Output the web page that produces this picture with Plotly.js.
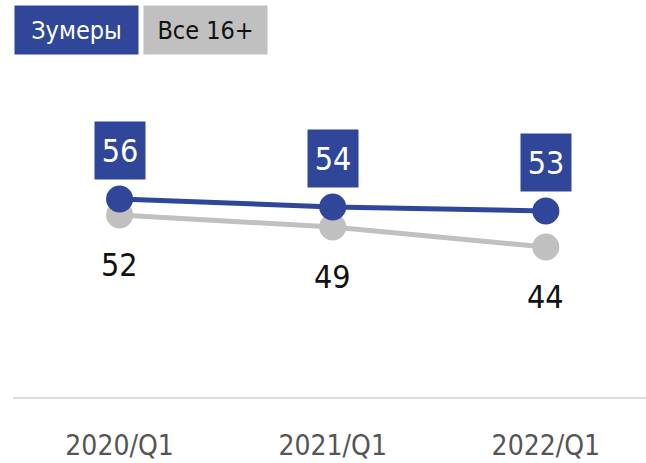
<!DOCTYPE html>
<html>
<head>
<meta charset="utf-8">
<script src="https://cdn.plot.ly/plotly-3.0.1.min.js"></script>
<style>html,body{margin:0;padding:0;background:#fff;}#chart{width:646px;height:463px;}
#chart svg text{font-stretch:condensed;}</style>
</head>
<body>
<div id="chart"></div>
<script>
const categories = ["2020/Q1", "2021/Q1", "2022/Q1"];
const seriesNames = ["Зумеры", "Все 16+"];
const zoomers = [56, 54, 53];
const all16 = [52, 49, 44];

const FONT = "DejaVu Sans, sans-serif";
const BLUE = "#2f4699";
const GREY = "#c0c0c0";

const traces = [
  {x: categories, y: all16, type: "scatter", mode: "lines+markers", name: seriesNames[1],
   line: {color: GREY, width: 5}, marker: {color: GREY, size: 27}, hoverinfo: "skip"},
  {x: categories, y: zoomers, type: "scatter", mode: "lines+markers", name: seriesNames[0],
   line: {color: BLUE, width: 5}, marker: {color: BLUE, size: 27}, hoverinfo: "skip"}
];

const W = 646, H = 463, ML = 13, MR = 0, MT = 60, MB = 66;
const pw = W - ML - MR, ph = H - MT - MB;

const annotations = [];
categories.forEach((c, i) => {
  annotations.push({x: c, y: zoomers[i], xref: "x", yref: "y", text: String(zoomers[i]),
    showarrow: false, yshift: 49, width: 48, height: 55, bgcolor: BLUE,
    xanchor: "center", yanchor: "middle",
    font: {family: FONT, size: 32, color: "#ffffff"}, valign: "middle"});
  annotations.push({x: c, y: all16[i], xref: "x", yref: "y", text: String(all16[i]),
    showarrow: false, yshift: -50, xanchor: "center", yanchor: "middle",
    font: {family: FONT, size: 32, color: "#111111"}});
});
annotations.push({x: (16 + 60.5 - ML) / pw, y: (H - MB - 30) / ph, xref: "paper", yref: "paper",
  text: seriesNames[0], showarrow: false, bgcolor: BLUE, width: 121, height: 46,
  xanchor: "center", yanchor: "middle",
  font: {family: FONT, size: 25, color: "#ffffff"}});
annotations.push({x: (145 + 60.5 - ML) / pw, y: (H - MB - 30) / ph, xref: "paper", yref: "paper",
  text: seriesNames[1], showarrow: false, bgcolor: GREY, width: 121, height: 46,
  xanchor: "center", yanchor: "middle",
  font: {family: FONT, size: 25, color: "#111111"}});

const layout = {
  width: W, height: H,
  margin: {l: ML, r: MR, t: MT, b: MB},
  paper_bgcolor: "#ffffff", plot_bgcolor: "#ffffff",
  showlegend: false,
  xaxis: {type: "category", range: [-0.5, 2.47], showgrid: false, zeroline: false,
    showline: true, linecolor: "#dddddd", linewidth: 2,
    ticks: "outside", ticklen: 22, tickcolor: "rgba(0,0,0,0)",
    tickfont: {family: FONT, size: 28, color: "#555555"}, fixedrange: true},
  yaxis: {range: [6.5, 90.75], showgrid: false, zeroline: false, showline: false,
    showticklabels: false, ticks: "", fixedrange: true},
  annotations: annotations
};

Plotly.newPlot("chart", traces, layout, {displayModeBar: false, staticPlot: true});
</script>
</body>
</html>
